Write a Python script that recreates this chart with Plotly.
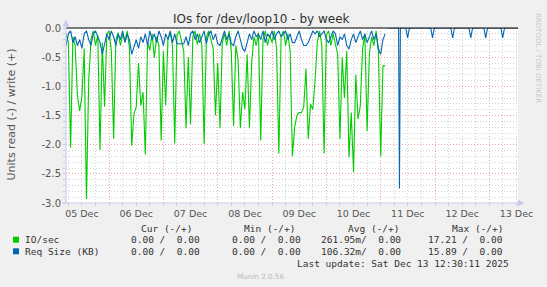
import plotly.graph_objects as go
import pandas as pd

W, H = 547, 287
ML, MR, MT, MB = 66, 29, 28, 84
PW = W - ML - MR
PH = H - MT - MB


def px(x, y):
    return (x - ML) / PW, (H - MB - y) / PH


# ---------------- data (read side, hourly samples) ----------------
day0 = pd.Timestamp("2025-12-05 00:00")
first_hour = 5  # first sample: Dec 5 05:00

io_read = [
    -0.10, -0.25, -2.05, -0.15, -0.30, -1.16, -1.42, -1.17, -0.35, -2.93,   # h5-14
    -0.90, -0.20, -0.05, -0.30, -0.12, -2.09, -0.25, -1.35, -0.10, -0.05,   # h15-24
    -0.40, -1.90, -0.20, -0.08, -0.30, -0.10, -0.22, -0.05, -0.35, -2.02,   # h25-34
    -1.47, -1.35, -0.60, -1.33, -1.10, -2.17, -0.25, -0.38, -0.10, -0.51,   # h35-44
    -0.15, -0.30, -1.93, -0.40, -1.33, -0.20, -0.08, -0.30, -1.98, -0.12,   # h45-54
    -0.05, -0.25, -0.40, -1.72, -0.50, -1.65, -0.15, -0.05, -0.28, -0.10,   # h55-64
    -0.30, -1.99, -0.15, -0.05, -0.20, -0.35, -1.50, -0.60, -1.72, -0.25,   # h65-74
    -0.10, -0.30, -0.05, -0.40, -1.68, -0.30, -0.55, -1.72, -1.10, -1.39,   # h75-84
    -0.45, -1.72, -0.60, -0.15, -0.30, -0.08, -1.93, -0.20, -0.05, -0.30,   # h85-94
    -0.12, -0.25, -0.05, -0.35, -2.15, -0.15, -0.05, -0.30, -0.10, -0.40,   # h95-104
    -2.20, -1.70, -1.50, -1.45, -1.45, -1.35, -0.70, -1.90, -1.30, -1.40,   # h105-114
    -0.90, -0.25, -0.05, -0.30, -2.15, -0.12, -0.05, -0.30, -0.10, -0.25,   # h115-124
    -0.45, -1.90, -0.50, -1.20, -0.40, -2.22, -1.45, -2.47, -0.80, -1.56,   # h125-134
    -1.33, -0.35, -0.10, -1.77, -0.45, -0.15, -0.30, -0.05, -0.40, -2.20,   # h135-144
    -0.65, -0.65,                                                           # h145-146
]

req_read = [
    -0.30, -0.10, -0.05, -0.25, -0.15, -0.30, -0.20, -0.35, -0.10, -0.05,   # h5-14
    -0.20, -0.30, -0.10, -0.05, -0.15, -0.25, -0.45, -0.30, -0.10, -0.20,   # h15-24
    -0.05, -0.15, -0.30, -0.10, -0.20, -0.05, -0.25, -0.10, -0.20, -0.45,   # h25-34
    -0.30, -0.20, -0.35, -0.15, -0.25, -0.10, -0.30, -0.05, -0.20, -0.10,   # h35-44
    -0.25, -0.05, -0.15, -0.30, -0.10, -0.20, -0.05, -0.25, -0.10, -0.27,   # h45-54
    -0.27, -0.27, -0.27, -0.15, -0.30, -0.10, -0.05, -0.20, -0.10, -0.25,   # h55-64
    -0.15, -0.05, -0.27, -0.10, -0.05, -0.20, -0.10, -0.27, -0.30, -0.15,   # h65-74
    -0.05, -0.20, -0.10, -0.27, -0.30, -0.15, -0.05, -0.20, -0.35, -0.40,   # h75-84
    -0.25, -0.10, -0.20, -0.05, -0.15, -0.10, -0.20, -0.05, -0.25, -0.10,   # h85-94
    -0.15, -0.05, -0.20, -0.10, -0.05, -0.15, -0.10, -0.05, -0.20, -0.10,   # h95-104
    -0.25, -0.25, -0.15, -0.05, -0.20, -0.30, -0.30, -0.25, -0.15, -0.05,   # h105-114
    -0.10, -0.05, -0.15, -0.10, -0.05, -0.20, -0.25, -0.15, -0.05, -0.10,   # h115-124
    -0.30, -0.15, -0.20, -0.10, -0.30, -0.36, -0.20, -0.10, -0.25, -0.15,   # h125-134
    -0.05, -0.20, -0.10, -0.25, -0.15, -0.05, -0.20, -0.10, -0.36, -0.45,   # h135-144
    -0.20, -0.10,                                                           # h145-146
]

# isolated Req Size spikes after the dense period (hours since Dec 5 00:00)
late_hours = [152.3, 155.9, 166.9, 175.8, 183.8, 190.4, 197.9]
late_req = [-2.75, -0.17, -0.17, -0.17, -0.17, -0.17, -0.17]
late_span = [147.0, 205.0]

y_ticks = [0.0, -0.5, -1.0, -1.5, -2.0, -2.5, -3.0]
y_tick_labels = ["0.0", "-0.5", "-1.0", "-1.5", "-2.0", "-2.5", "-3.0"]

legend_rows = [
    ("IO/sec", "#00CC00", "0.00 /  0.00", "0.00 /  0.00", "261.95m/  0.00", "17.21 /  0.00"),
    ("Req Size (KB)", "#0066B3", "0.00 /  0.00", "0.00 /  0.00", "106.32m/  0.00", "15.89 /  0.00"),
]
col_headers = ["Cur (-/+)", "Min (-/+)", "Avg (-/+)", "Max (-/+)"]
last_update = "Last update: Sat Dec 13 12:30:11 2025"

# ---------------- build ----------------
H1 = pd.Timedelta(hours=1)
t_main = [day0 + (first_hour + i) * H1 for i in range(len(io_read))]

late_t, late_v = [day0 + late_span[0] * H1], [0.0]
for h, v in zip(late_hours, late_req):
    w = 0.4 if v < -1 else 0.8
    late_t += [day0 + (h - w) * H1, day0 + h * H1, day0 + (h + w) * H1]
    late_v += [0.0, v, 0.0]
late_t.append(day0 + late_span[1] * H1)
late_v.append(0.0)

fig = go.Figure()
fig.add_trace(go.Scatter(x=t_main, y=io_read, mode="lines", line=dict(color="#00CC00", width=1.1),
                         hoverinfo="skip"))
fig.add_trace(go.Scatter(x=t_main, y=req_read, mode="lines", line=dict(color="#0066B3", width=1.1),
                         hoverinfo="skip"))
fig.add_trace(go.Scatter(x=late_t, y=late_v, mode="lines", line=dict(color="#0066B3", width=1.1),
                         hoverinfo="skip"))

MAJ = "#F2A2A2"
MIN = "#D2D2D2"
AX = "#C8C8EE"
LBL = "#555555"
DOT = "1px,2px"

fig.update_layout(
    width=W, height=H,
    margin=dict(l=ML, r=MR, t=MT, b=MB, pad=0),
    paper_bgcolor="#F0F0F0", plot_bgcolor="#FFFFFF",
    showlegend=False,
    font=dict(family="DejaVu Sans", color=LBL),
    xaxis=dict(
        type="date",
        range=[day0 + 4.96 * H1, day0 + 204.67 * H1],
        tick0="2025-12-05", dtick=86400000,
        ticklabelmode="period", tickformat="%d %b",
        tickfont=dict(size=9.5, color=LBL, family="DejaVu Sans"),
        showgrid=True, gridcolor=MAJ, griddash=DOT, gridwidth=1,
        ticks="outside", ticklen=2, tickcolor=AX,
        minor=dict(tick0="2025-12-05", dtick=21600000, showgrid=True, gridcolor=MIN, griddash=DOT,
                   ticks="outside", ticklen=2, tickcolor=AX),
        showline=False, zeroline=False, fixedrange=True,
    ),
    yaxis=dict(
        range=[-3.0, 0.0],
        tickvals=y_ticks, ticktext=y_tick_labels,
        tickfont=dict(size=10, color=LBL, family="DejaVu Sans"),
        showgrid=True, gridcolor=MAJ, griddash=DOT, gridwidth=1,
        ticks="outside", ticklen=2, tickcolor=AX,
        minor=dict(tick0=0, dtick=0.1, showgrid=True, gridcolor=MIN, griddash=DOT,
                   ticks="outside", ticklen=2, tickcolor=AX),
        showline=False, zeroline=False, fixedrange=True,
    ),
)

shapes = []
# zero line
x0, y0 = px(ML, MT)
x1, _ = px(ML + PW, MT)
shapes.append(dict(type="line", xref="paper", yref="paper", x0=x0, x1=x1, y0=y0, y1=y0,
                   line=dict(color="#000000", width=1), layer="above"))
# axes lines
a, b = px(66, 203)
c, d = px(66, 24)
shapes.append(dict(type="line", xref="paper", yref="paper", x0=a, x1=c, y0=b, y1=d, line=dict(color=AX, width=1)))
a, b = px(62, 203)
c, d = px(519, 203)
shapes.append(dict(type="line", xref="paper", yref="paper", x0=a, x1=c, y0=b, y1=d, line=dict(color=AX, width=1)))


def tri(p1, p2, p3):
    pts = [px(*p1), px(*p2), px(*p3)]
    return "M {} {} L {} {} L {} {} Z".format(pts[0][0], pts[0][1], pts[1][0], pts[1][1], pts[2][0], pts[2][1])


shapes.append(dict(type="path", xref="paper", yref="paper", path=tri((66, 20), (63, 26), (69, 26)),
                   fillcolor=AX, line=dict(color=AX, width=0.5)))
shapes.append(dict(type="path", xref="paper", yref="paper", path=tri((524, 203), (518, 200), (518, 206)),
                   fillcolor=AX, line=dict(color=AX, width=0.5)))

annos = []


def text(x, y, s, size, color, family="DejaVu Sans", anchor="left", angle=0):
    xp, yp = px(x, y)
    annos.append(dict(x=xp, y=yp, xref="paper", yref="paper", text=s.replace(" ", "\u00a0"), showarrow=False,
                      xanchor=anchor, yanchor="middle", textangle=angle, borderpad=0, borderwidth=0,
                      font=dict(size=size, color=color, family=family)))


text(261.7, 19.3, "IOs for /dev/loop10 - by week", 12, "#333333", anchor="center")
text(11, 114.5, "Units read (-) / write (+)", 11, LBL, anchor="center", angle=-90)
text(538, 58, "RRDTOOL / TOBI OETIKER", 7, "#C8C8C8", anchor="center", angle=90)

MONO = "DejaVu Sans Mono"
FS = 9.5
TC = "#333333"
for xh, s in zip([140.7, 244.0, 347.7, 451.7], col_headers):
    text(xh, 228.0, s, FS, TC, MONO)
row_y = [239.7, 251.3]
for (name, col, cur, mn, avg, mx), ry in zip(legend_rows, row_y):
    sx0, sy0 = px(13, ry - 3)
    sx1, sy1 = px(19, ry + 3)
    shapes.append(dict(type="rect", xref="paper", yref="paper", x0=sx0, x1=sx1, y0=sy0, y1=sy1,
                       fillcolor=col, line=dict(width=0)))
    text(25, ry, name, FS, TC, MONO)
    text(131, ry, cur, FS, TC, MONO)
    text(232.3, ry, mn, FS, TC, MONO)
    text(321, ry, avg, FS, TC, MONO)
    text(428.3, ry, mx, FS, TC, MONO)
text(509, 263.7, last_update, FS, TC, MONO, anchor="right")
text(260.8, 276, "Munin 2.0.56", 7.2, "#BBBBBB", anchor="center")

fig.update_layout(shapes=shapes, annotations=annos)
fig.write_html("out.html", config=dict(displayModeBar=False))
